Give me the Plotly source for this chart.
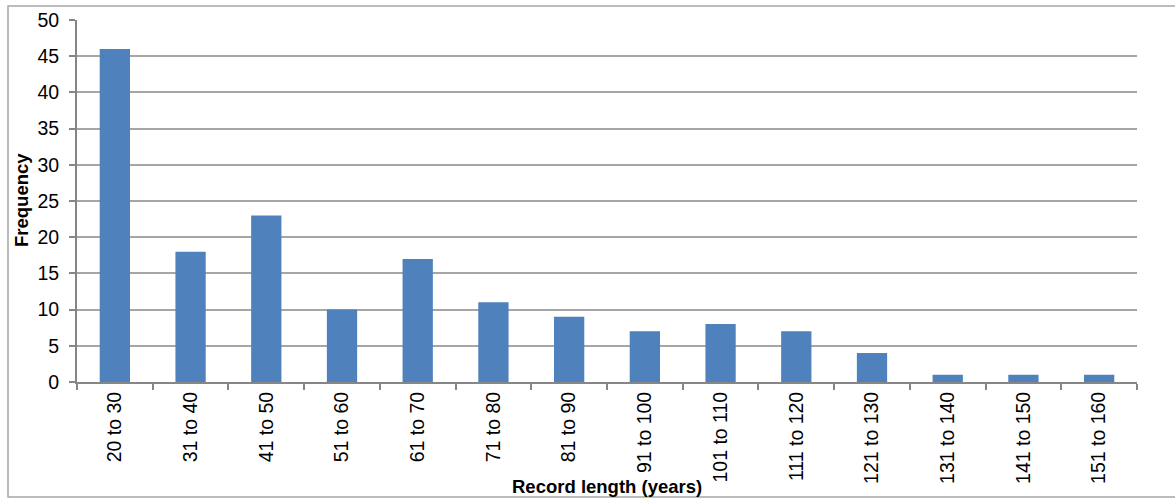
import plotly.graph_objects as go

categories = ["20 to 30", "31 to 40", "41 to 50", "51 to 60", "61 to 70", "71 to 80",
              "81 to 90", "91 to 100", "101 to 110", "111 to 120", "121 to 130",
              "131 to 140", "141 to 150", "151 to 160"]
frequency = [46, 18, 23, 10, 17, 11, 9, 7, 8, 7, 4, 1, 1, 1]
y_ticks = [0, 5, 10, 15, 20, 25, 30, 35, 40, 45, 50]

font = "Liberation Sans, Arial, sans-serif"

fig = go.Figure(go.Bar(x=categories, y=frequency, marker_color="#4F81BD",
                       marker_line_width=0))

L, R, T, B = 77, 38, 20, 117
W, H = 1175, 499
pw, ph = W - L - R, H - T - B

def px_x(x):
    return (x - L) / pw

def px_y(y):
    return (T + ph - y) / ph

fig.update_layout(
    width=W, height=H,
    margin=dict(l=L, r=R, t=T, b=B, pad=0),
    plot_bgcolor="white", paper_bgcolor="white",
    bargap=0.6, showlegend=False,
    font=dict(family=font, color="black", size=19.5),
    xaxis=dict(
        type="category", tickangle=-90, tickson="boundaries",
        ticks="outside", ticklen=6, tickcolor="#868686", tickwidth=1.5,
        showline=True, linecolor="#868686", linewidth=2,
        showgrid=False, tickfont=dict(size=19.5),
        automargin=False,
    ),
    yaxis=dict(
        range=[0, 50], tickvals=y_ticks, ticks="outside", ticklen=6,
        tickcolor="#868686", tickwidth=1.5,
        showline=True, linecolor="#868686", linewidth=2,
        showgrid=True, gridcolor="#A6A6A6", gridwidth=1.5,
        zeroline=False, tickfont=dict(size=19.5), ticklabelstandoff=6,
        automargin=False,
    ),
)

fig.add_annotation(text="<b>Record length (years)</b>", xref="paper", yref="paper",
                   x=px_x(607), y=px_y(487), xanchor="center", yanchor="middle",
                   showarrow=False, font=dict(size=18.5), bgcolor="rgba(0,0,0,0)")
fig.add_annotation(text="<b>Frequency</b>", xref="paper", yref="paper",
                   x=px_x(22), y=px_y(200), xanchor="center", yanchor="middle",
                   textangle=-90, showarrow=False, font=dict(size=18.5))

fig.add_shape(type="rect", xref="paper", yref="paper",
              x0=px_x(8), x1=px_x(1200), y0=px_y(497), y1=px_y(6),
              line=dict(color="#A6A6A6", width=1.5), fillcolor="rgba(0,0,0,0)",
              layer="below")

fig.write_html("out.html", config={"displayModeBar": False},
               post_script="document.body.style.margin='0';")
